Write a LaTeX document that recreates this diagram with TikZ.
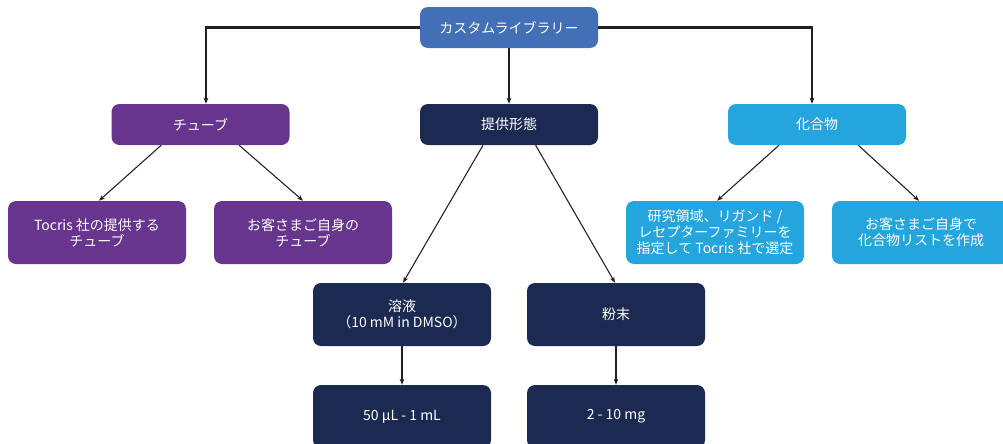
\documentclass[tikz,border=0pt]{standalone}
\usepackage{fontspec}
\setmainfont{Noto Sans CJK JP}
\usetikzlibrary{arrows.meta}
\definecolor{topblue}{HTML}{436FB6}
\definecolor{purp}{HTML}{68358E}
\definecolor{navy}{HTML}{1C2A52}
\definecolor{lblue}{HTML}{25A5DD}
\definecolor{linec}{HTML}{231F20}
\tikzset{
  box/.style={rounded corners=6pt, minimum width=133.5pt, align=center, text=white,
    font=\fontsize{10.5}{12}\selectfont, inner sep=0pt},
  shortbox/.style={box, minimum height=30.75pt},
  tallbox/.style={box, minimum height=47.25pt},
  conn/.style={draw=linec, line width=0.8pt, -{Stealth[length=4.5pt,width=3.5pt]}},
  hline/.style={draw=linec, line width=1.6pt},
}
\begin{document}
\begin{tikzpicture}[x=0.75pt,y=-0.75pt]
\useasboundingbox (0,0) rectangle (1003,443);
\clip (0,0) rectangle (1003,443);
\node[shortbox, fill=topblue] (top) at (509,27.5) {カスタムライブラリー};
\node[shortbox, fill=purp] (tube) at (200.5,124.5) {チューブ};
\node[shortbox, fill=navy] (form) at (509,124.5) {提供形態};
\node[shortbox, fill=lblue] (cmpd) at (817,124.5) {化合物};
\node[tallbox, fill=purp] (tocris) at (97,232.5) {Tocris 社の提供する\\チューブ};
\node[tallbox, fill=purp] (owntube) at (303,232.5) {お客さまご自身の\\チューブ};
\node[tallbox, fill=lblue] (select) at (715,232.5) {研究領域、リガンド /\\レセプターファミリーを\\指定して Tocris 社で選定};
\node[tallbox, fill=lblue] (ownlist) at (921,232.5) {お客さまご自身で\\化合物リストを作成};
\node[tallbox, fill=navy] (sol) at (402,314.5) {溶液\\（10 mM in DMSO）};
\node[tallbox, fill=navy] (powder) at (616,314.5) {粉末};
\node[tallbox, fill=navy] (vol) at (402,416.5) {50 μL - 1 mL};
\node[tallbox, fill=navy] (mass) at (616,416.5) {2 - 10 mg};
\coordinate (lcorner) at (206,27.5);
\coordinate (rcorner) at (812,27.5);
\draw[hline] (top.west) -- ([xshift=-0.6pt]lcorner);
\draw[hline] (top.east) -- ([xshift=0.6pt]rcorner);
\draw[conn] (lcorner) -- (lcorner |- tube.north);
\draw[conn] (rcorner) -- (rcorner |- cmpd.north);
\draw[conn] (top.south) -- (form.north);
\draw[conn] ([xshift=-29.5pt]tube.south) -- ([xshift=1.5pt]tocris.north);
\draw[conn] ([xshift=29pt]tube.south) -- (owntube.north);
\draw[conn] ([xshift=-28.5pt]cmpd.south) -- ([xshift=1.5pt]select.north);
\draw[conn] ([xshift=31pt]cmpd.south) -- ([xshift=-1.5pt]ownlist.north);
\draw[conn] ([xshift=-19.5pt]form.south) -- ([xshift=0.75pt]sol.north);
\draw[conn] ([xshift=20pt]form.south) -- ([xshift=-0.75pt]powder.north);
\draw[conn] (sol.south) -- (vol.north);
\draw[conn] (powder.south) -- (mass.north);
\end{tikzpicture}
\end{document}
